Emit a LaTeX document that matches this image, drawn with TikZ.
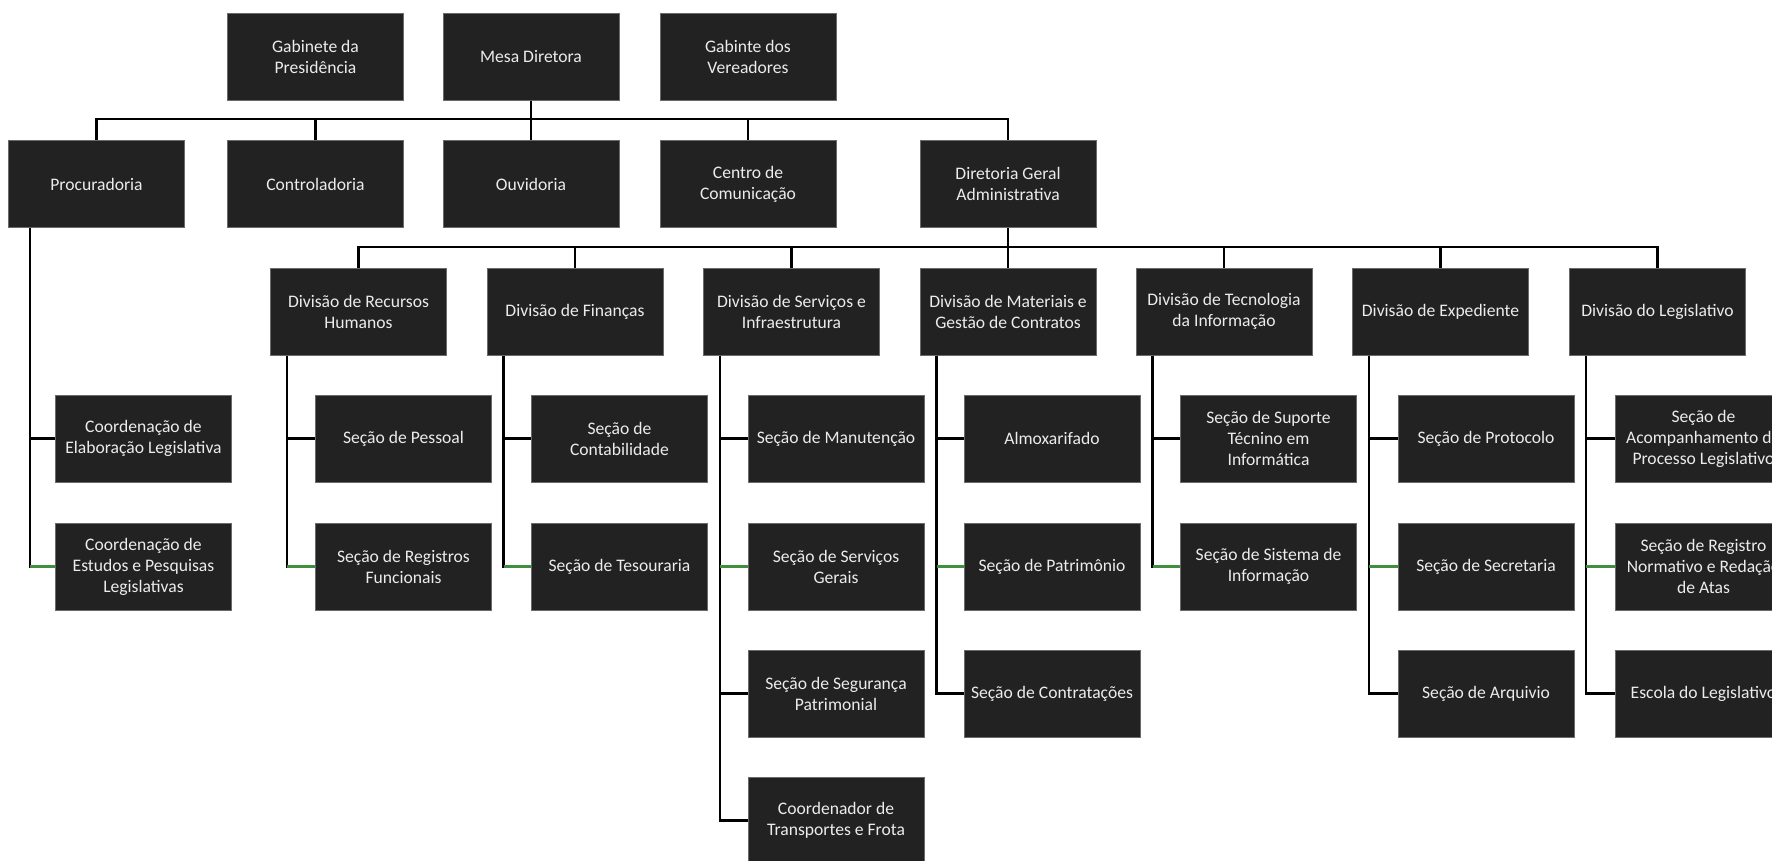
\documentclass[tikz,border=0pt]{standalone}
\usepackage{fontspec}
\setmainfont{Carlito}
\definecolor{boxfill}{HTML}{222222}
\definecolor{boxedge}{HTML}{6A6A6A}
\definecolor{boxtext}{HTML}{ECECEC}
\definecolor{stubgreen}{HTML}{3F8F3F}
\begin{document}
\begin{tikzpicture}[x=1pt,y=-1pt,
  box/.style={draw=boxedge, line width=1pt, fill=boxfill, text=boxtext,
    minimum width=176pt, minimum height=87pt, inner sep=1pt, align=center,
    font=\fontsize{17.6}{21}\selectfont},
  conn/.style={line width=2.2pt, draw=black},
  gstub/.style={line width=2.2pt, draw=stubgreen}]
\useasboundingbox (0,0) rectangle (1772,860);
\clip (0,0) rectangle (1772,860);
\fill[white] (0,0) rectangle (1772,860);

% top row
\node[box] (gab)  at (315.5,56.5) {Gabinete da\\Presidência};
\node[box] (mesa) at (531,56.5)   {Mesa Diretora};
\node[box] (vere) at (748,56.5)   {Gabinte dos\\Vereadores};

% second row
\node[box] (proc) at (96.5,184)  {Procuradoria};
\node[box] (cont) at (315.5,184) {Controladoria};
\node[box] (ouv)  at (531,184)   {Ouvidoria};
\node[box] (cent) at (748,184)   {Centro de\\Comunicação};
\node[box] (dir)  at (1008,184)  {Diretoria Geral\\Administrativa};

% divisions
\node[box] (rh)   at (358.5,311.5)  {Divisão de Recursos\\Humanos};
\node[box] (fin)  at (575,311.5)    {Divisão de Finanças};
\node[box] (serv) at (791.5,311.5)  {Divisão de Serviços e\\Infraestrutura};
\node[box] (mat)  at (1008,311.5)   {Divisão de Materiais e\\Gestão de Contratos};
\node[box] (tec)  at (1224,311.5)   {Divisão de Tecnologia\\da Informação};
\node[box] (exp)  at (1440.5,311.5) {Divisão de Expediente};
\node[box] (leg)  at (1657.5,311.5) {Divisão do Legislativo};

% children
\node[box] (procA) at (143.5,438.5) {Coordenação de\\Elaboração Legislativa};
\node[box] (procB) at (143.5,566.5) {Coordenação de\\Estudos e Pesquisas\\Legislativas};

\node[box] (rhA) at (403.5,438.5) {Seção de Pessoal};
\node[box] (rhB) at (403.5,566.5) {Seção de Registros\\Funcionais};

\node[box] (finA) at (619.5,438.5) {Seção de\\Contabilidade};
\node[box] (finB) at (619.5,566.5) {Seção de Tesouraria};

\node[box] (servA) at (836,438.5) {Seção de Manutenção};
\node[box] (servB) at (836,566.5) {Seção de Serviços\\Gerais};
\node[box] (servC) at (836,693.5) {Seção de Segurança\\Patrimonial};
\node[box] (servD) at (836,820.5) {Coordenador de\\Transportes e Frota};

\node[box] (matA) at (1052,438.5) {Almoxarifado};
\node[box] (matB) at (1052,566.5) {Seção de Patrimônio};
\node[box] (matC) at (1052,693.5) {Seção de Contratações};

\node[box] (tecA) at (1268.5,438.5) {Seção de Suporte\\Técnino em\\Informática};
\node[box] (tecB) at (1268.5,566.5) {Seção de Sistema de\\Informação};

\node[box] (expA) at (1486,438.5) {Seção de Protocolo};
\node[box] (expB) at (1486,566.5) {Seção de Secretaria};
\node[box] (expC) at (1486,693.5) {Seção de Arquivio};

\node[box] (legA) at (1703.5,438.5) {Seção de\\Acompanhamento do\\Processo Legislativo};
\node[box] (legB) at (1703.5,566.5) {Seção de Registro\\Normativo e Redação\\de Atas};
\node[box] (legC) at (1703.5,693.5) {Escola do Legislativo};

% bus levels
\coordinate (b1) at (0,119);
\coordinate (b2) at (0,247);

% upper bus
\draw[conn] (proc.north) |- (dir.north |- b1) -- (dir.north);
\draw[conn] (mesa.south) -- (mesa.south |- b1);
\foreach \n in {cont,ouv,cent} \draw[conn] (\n.north) -- (\n.north |- b1);

% lower bus
\draw[conn] (rh.north) |- (leg.north |- b2) -- (leg.north);
\draw[conn] (dir.south) -- (dir.south |- b2);
\foreach \n in {fin,serv,mat,tec,exp} \draw[conn] (\n.north) -- (\n.north |- b2);

% child connectors
\coordinate (vproc) at ([xshift=22pt]proc.south west);
\draw[conn] (vproc) |- (procA.west);
\draw[conn] (vproc) |- (procB.west);
\draw[gstub] (vproc |- procB.west) -- (procB.west);

\foreach \d/\kids/\last in {rh/{rhA,rhB}/rhB, fin/{finA,finB}/finB,
    serv/{servA,servB,servC,servD}/servB, mat/{matA,matB,matC}/matB,
    tec/{tecA,tecB}/tecB, exp/{expA,expB,expC}/expB, leg/{legA,legB,legC}/legB}{
  \coordinate (v\d) at ([xshift=17pt]\d.south west);
  \foreach \k in \kids {\draw[conn] (v\d) |- (\k.west);}
  \draw[gstub] (v\d |- \last.west) -- (\last.west);
}
\end{tikzpicture}
\end{document}
